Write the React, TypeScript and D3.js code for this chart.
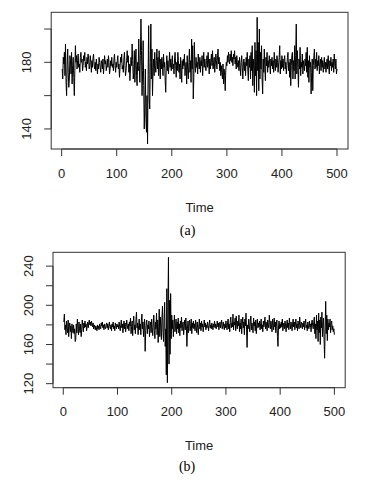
import React from "react";
import * as d3 from "d3";

const seriesA: number[] = [
  176, 170, 183, 179, 186, 172, 191, 168, 160, 178, 188, 174, 165, 170, 184, 181, 173, 186, 167, 178,
  183, 171, 160, 175, 190, 180, 184, 176, 181, 185, 177, 179, 174, 183, 186, 180, 182, 175, 178, 184,
  181, 186, 177, 180, 175, 183, 179, 185, 182, 176, 178, 184, 180, 174, 181, 177, 183, 185, 178, 176,
  180, 175, 182, 178, 173, 179, 176, 183, 180, 177, 174, 181, 179, 176, 182, 173, 178, 184, 179, 181,
  175, 178, 182, 177, 184, 180, 173, 176, 181, 178, 183, 177, 179, 175, 182, 185, 178, 174, 180, 177,
  181, 184, 176, 179, 171, 177, 183, 180, 185, 176, 178, 174, 182, 186, 178, 172, 175, 181, 187, 180,
  184, 174, 179, 169, 176, 183, 178, 191, 181, 170, 174, 187, 168, 182, 188, 172, 166, 180, 175, 194,
  178, 168, 184, 206, 187, 160, 175, 193, 166, 140, 155, 176, 147, 138, 160, 131, 172, 202, 158, 152,
  180, 203, 170, 188, 160, 176, 182, 172, 186, 178, 174, 181, 188, 176, 183, 172, 187, 179, 170, 182,
  176, 183, 179, 172, 185, 177, 180, 169, 162, 178, 184, 175, 181, 173, 179, 186, 177, 182, 175, 180,
  184, 176, 179, 173, 182, 186, 178, 171, 180, 175, 186, 181, 174, 179, 170, 183, 177, 168, 181, 176,
  182, 178, 185, 172, 177, 180, 167, 184, 175, 170, 180, 188, 174, 181, 168, 194, 176, 190, 158, 171,
  192, 178, 174, 183, 177, 180, 173, 185, 179, 176, 183, 174, 181, 178, 184, 172, 179, 186, 177, 182,
  178, 175, 181, 184, 177, 186, 179, 173, 182, 176, 181, 185, 178, 187, 176, 180, 183, 174, 179, 185,
  181, 176, 184, 188, 179, 183, 175, 180, 172, 178, 174, 170, 179, 167, 176, 172, 163, 175, 180, 178,
  184, 180, 186, 182, 179, 185, 181, 187, 180, 183, 178, 185, 182, 187, 179, 183, 176, 184, 180, 177,
  181, 175, 183, 178, 172, 180, 184, 177, 170, 179, 182, 175, 180, 172, 183, 178, 186, 176, 169, 182,
  177, 184, 170, 186, 175, 190, 166, 182, 176, 162, 192, 172, 187, 160, 207, 175, 192, 163, 200, 170,
  186, 176, 190, 170, 161, 182, 174, 188, 176, 169, 183, 178, 186, 174, 181, 177, 184, 179, 173, 182,
  178, 183, 176, 181, 174, 186, 179, 175, 182, 177, 184, 180, 174, 179, 183, 190, 173, 181, 176, 184,
  177, 182, 175, 181, 184, 176, 180, 173, 178, 183, 186, 175, 180, 171, 182, 166, 178, 184, 186, 170,
  181, 175, 190, 170, 184, 203, 173, 187, 177, 165, 182, 176, 189, 172, 180, 177, 185, 173, 181, 178,
  175, 182, 178, 186, 174, 189, 171, 181, 168, 184, 177, 180, 161, 174, 182, 163, 178, 184, 188, 176,
  182, 177, 186, 175, 181, 178, 184, 173, 179, 182, 175, 183, 177, 181, 174, 179, 183, 176, 180, 174,
  179, 182, 176, 184, 177, 173, 181, 178, 183, 175, 180, 177, 182, 174, 185, 179, 176, 182, 173, 176,
];

const seriesB: number[] = [
  183, 191, 175, 180, 170, 184, 177, 172, 185, 168, 178, 182, 173, 179, 166, 181, 176, 172, 180, 171,
  176, 163, 165, 181, 172, 186, 178, 170, 183, 176, 172, 181, 168, 175, 185, 179, 173, 182, 177, 184,
  178, 181, 174, 179, 183, 177, 182, 185, 180, 183, 179, 184, 181, 178, 182, 176, 180, 178, 175, 179,
  177, 174, 180, 176, 179, 175, 181, 178, 176, 182, 179, 183, 177, 180, 175, 181, 178, 176, 180, 182,
  177, 181, 175, 179, 183, 178, 176, 180, 174, 181, 178, 183, 176, 179, 174, 182, 179, 176, 181, 178,
  180, 176, 183, 178, 174, 180, 185, 177, 181, 172, 179, 184, 176, 182, 173, 178, 185, 179, 176, 181,
  174, 183, 179, 187, 171, 178, 184, 169, 182, 189, 175, 180, 171, 185, 193, 177, 182, 170, 179, 186,
  175, 181, 170, 184, 191, 176, 183, 168, 179, 186, 153, 174, 182, 185, 171, 180, 176, 184, 168, 178,
  183, 172, 186, 177, 169, 181, 190, 174, 166, 183, 176, 192, 170, 185, 162, 178, 196, 168, 188, 176,
  165, 188, 199, 172, 163, 185, 203, 158, 176, 129, 217, 121, 195, 249, 140, 205, 150, 212, 166, 190,
  176, 185, 168, 180, 190, 173, 178, 186, 171, 183, 176, 187, 172, 181, 169, 184, 177, 188, 174, 180,
  183, 170, 178, 185, 175, 187, 179, 158, 176, 184, 172, 181, 185, 174, 179, 186, 171, 182, 177, 184,
  176, 181, 174, 185, 179, 172, 183, 177, 170, 180, 186, 176, 182, 174, 184, 178, 181, 173, 179, 185,
  178, 182, 175, 180, 177, 183, 179, 174, 181, 185, 177, 180, 176, 182, 179, 175, 181, 178, 184, 177,
  181, 176, 179, 184, 178, 182, 175, 180, 183, 177, 181, 185, 176, 179, 183, 178, 175, 181, 177, 184,
  179, 175, 182, 186, 176, 181, 173, 184, 188, 177, 182, 178, 191, 175, 183, 180, 187, 174, 189, 179,
  176, 184, 179, 190, 173, 182, 176, 186, 171, 181, 188, 177, 183, 170, 186, 179, 192, 175, 157, 180,
  176, 186, 179, 173, 184, 189, 175, 182, 178, 172, 187, 179, 183, 174, 185, 171, 180, 186, 177, 182,
  178, 184, 175, 181, 186, 176, 180, 173, 184, 178, 182, 188, 176, 183, 179, 174, 185, 180, 177, 190,
  182, 176, 184, 179, 173, 186, 181, 175, 187, 178, 183, 172, 180, 185, 168, 158, 179, 184, 176, 181,
  177, 183, 178, 186, 174, 180, 182, 176, 184, 179, 173, 181, 185, 177, 182, 175, 187, 180, 176, 183,
  179, 174, 182, 186, 178, 183, 175, 180, 186, 177, 181, 174, 184, 179, 176, 188, 181, 177, 183, 180,
  176, 182, 178, 184, 175, 181, 186, 177, 180, 174, 183, 179, 176, 184, 178, 181, 173, 182, 185, 179,
  176, 183, 188, 171, 181, 166, 190, 175, 184, 163, 192, 172, 185, 160, 188, 177, 193, 168, 182, 187,
  165, 146, 178, 204, 171, 190, 164, 186, 175, 182, 178, 186, 172, 181, 184, 175, 179, 173, 176, 170,
];

const xTicks = [0, 100, 200, 300, 400, 500];
const yTicksA = [140, 160, 180, 200];
const yLabelsA = [140, 180];
const yTicksB = [120, 140, 160, 180, 200, 220, 240];
const yLabelsB = [120, 160, 200, 240];

type PanelProps = {
  data: number[];
  left: number;
  right: number;
  top: number;
  bottom: number;
  yTicks: number[];
  yLabels: number[];
  yLabelX: number;
  xLabelY: number;
  titleY: number;
  caption: string;
  captionY: number;
};

const FONT = "Liberation Sans, Arial, sans-serif";

function Panel(p: PanelProps) {
  const n = p.data.length;
  const x = d3.scaleLinear().domain([1 - 0.04 * (n - 1), n + 0.04 * (n - 1)]).range([p.left, p.right]);
  const ext = d3.extent(p.data) as [number, number];
  const pad = (ext[1] - ext[0]) * 0.04;
  const y = d3.scaleLinear().domain([ext[0] - pad, ext[1] + pad]).range([p.bottom, p.top]);
  const line = d3
    .line<number>()
    .x((_, i) => x(i + 1))
    .y((d) => y(d));
  const cx = (p.left + p.right) / 2;
  const tickLen = 7;
  return (
    <g>
      <path d={line(p.data) || ""} fill="none" stroke="#000" strokeWidth={1} />
      <rect
        x={p.left}
        y={p.top}
        width={p.right - p.left}
        height={p.bottom - p.top}
        fill="none"
        stroke="#333"
        strokeWidth={1}
      />
      <line
        x1={x(xTicks[0])}
        x2={x(xTicks[xTicks.length - 1])}
        y1={p.bottom}
        y2={p.bottom}
        stroke="#333"
      />
      {xTicks.map((t) => (
        <g key={"x" + t}>
          <line x1={x(t)} x2={x(t)} y1={p.bottom} y2={p.bottom + tickLen} stroke="#333" />
          <text
            x={x(t)}
            y={p.xLabelY}
            textAnchor="middle"
            fontFamily={FONT}
            fontSize={13}
            fill="#222"
          >
            {t}
          </text>
        </g>
      ))}
      <line
        x1={p.left}
        x2={p.left}
        y1={y(p.yTicks[0])}
        y2={y(p.yTicks[p.yTicks.length - 1])}
        stroke="#333"
      />
      {p.yTicks.map((t) => (
        <line key={"y" + t} x1={p.left - tickLen} x2={p.left} y1={y(t)} y2={y(t)} stroke="#333" />
      ))}
      {p.yLabels.map((t) => (
        <text
          key={"yl" + t}
          transform={`translate(${p.yLabelX},${y(t)}) rotate(-90)`}
          textAnchor="middle"
          fontFamily={FONT}
          fontSize={13}
          fill="#222"
        >
          {t}
        </text>
      ))}
      <text x={cx} y={p.titleY} textAnchor="middle" fontFamily={FONT} fontSize={13} fill="#222">
        Time
      </text>
      <text
        x={cx - 12}
        y={p.captionY}
        textAnchor="middle"
        fontFamily="Liberation Serif, Times New Roman, serif"
        fontSize={14}
        fill="#000"
      >
        {p.caption}
      </text>
    </g>
  );
}

export default function App() {
  return (
    <svg
      width={365}
      height={480}
      style={{ position: "absolute", left: 0, top: 0, background: "#fff" }}
    >
      <rect x={0} y={0} width={365} height={480} fill="#fff" />
      <Panel
        data={seriesA}
        left={51.2}
        right={348}
        top={12.3}
        bottom={149}
        yTicks={yTicksA}
        yLabels={yLabelsA}
        yLabelX={31}
        xLabelY={178}
        titleY={211.5}
        caption="(a)"
        captionY={235}
      />
      <Panel
        data={seriesB}
        left={53}
        right={345.2}
        top={252.3}
        bottom={387.7}
        yTicks={yTicksB}
        yLabels={yLabelsB}
        yLabelX={32.5}
        xLabelY={416}
        titleY={449.5}
        caption="(b)"
        captionY={471}
      />
    </svg>
  );
}
